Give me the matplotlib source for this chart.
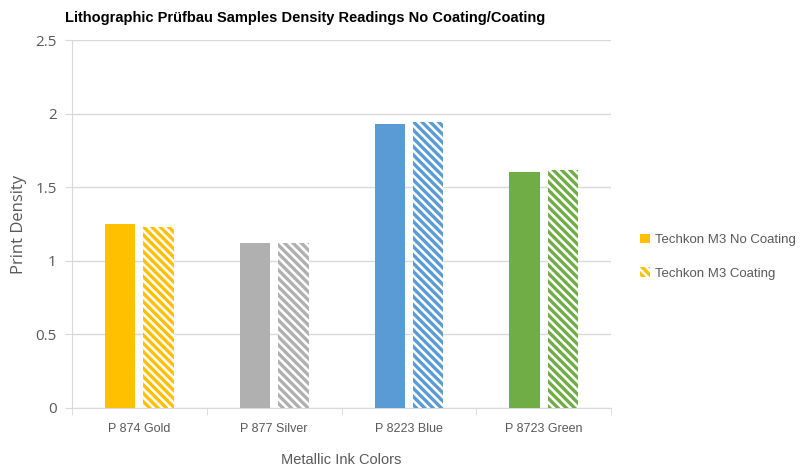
import matplotlib
matplotlib.use("Agg")
import matplotlib.pyplot as plt
from matplotlib.patches import Patch
import numpy as np

# readings per ink, measured with the Techkon M3
categories = ["P 874 Gold", "P 877 Silver", "P 8223 Blue", "P 8723 Green"]
no_coating = [1.25, 1.12, 1.93, 1.60]
coating = [1.23, 1.12, 1.94, 1.62]
ink_colors = ["#FFC000", "#B0B0B0", "#5B9BD5", "#70AD47"]

STRIPES = "\\\\\\\\"
plt.rcParams["hatch.linewidth"] = 2.4

fig = plt.figure(figsize=(8, 4.71), dpi=100)
ax = fig.add_axes([0.09, 0.134, 0.674, 0.781])

x = np.arange(len(categories))
width = 0.225
offset = 0.142
for i in range(len(categories)):
    ax.bar(x[i] - offset, no_coating[i], width, color=ink_colors[i], linewidth=0, zorder=3)
    ax.bar(x[i] + offset, coating[i], width, facecolor="white", edgecolor=ink_colors[i],
           hatch=STRIPES, linewidth=0, zorder=3)

ax.set_xlim(-0.5, len(categories) - 0.5)
ax.set_ylim(0, 2.5)
ax.set_yticks([0, 0.5, 1, 1.5, 2, 2.5])
ax.set_yticklabels(["0", "0.5", "1", "1.5", "2", "2.5"], fontfamily="Open Sans",
                   fontsize=11, color="#595959")
ax.set_xticks(x)
ax.set_xticklabels(categories, fontfamily="Liberation Sans", fontsize=9, color="#595959")
ax.set_xticks(np.arange(-0.5, len(categories)), minor=True)
ax.tick_params(axis="x", which="major", length=0, pad=11)
ax.tick_params(axis="x", which="minor", length=5, color="#D9D9D9")
ax.tick_params(axis="y", length=5, color="#D9D9D9", pad=6)

ax.grid(axis="y", color="#D9D9D9", linewidth=1, zorder=0)
for side in ["top", "right"]:
    ax.spines[side].set_visible(False)
ax.spines["left"].set_color("#D9D9D9")
ax.spines["bottom"].set_color("#D9D9D9")

ax.set_ylabel("Print Density", fontfamily="Open Sans", fontsize=12, color="#595959", labelpad=6)
ax.set_xlabel("Metallic Ink Colors", fontfamily="Liberation Sans", fontsize=10.5,
              color="#595959", labelpad=13)

fig.text(0.381, 0.962, "Lithographic Prüfbau Samples Density Readings No Coating/Coating",
         ha="center", va="center", fontfamily="Liberation Sans", fontweight="bold",
         fontsize=10.5, color="black")

handles = [Patch(facecolor="#FFC000", linewidth=0),
           Patch(facecolor="white", edgecolor="#FFC000", hatch=STRIPES, linewidth=0)]
fig.legend(handles, ["Techkon M3 No Coating", "Techkon M3 Coating"],
           loc="center left", bbox_to_anchor=(0.8, 0.455), frameon=False,
           prop={"family": "Liberation Sans", "size": 9.5}, labelcolor="#595959",
           handlelength=0.75, handleheight=0.75, handletextpad=0.4, labelspacing=1.6,
           borderpad=0, borderaxespad=0)

fig.savefig("out.png", dpi=100)
